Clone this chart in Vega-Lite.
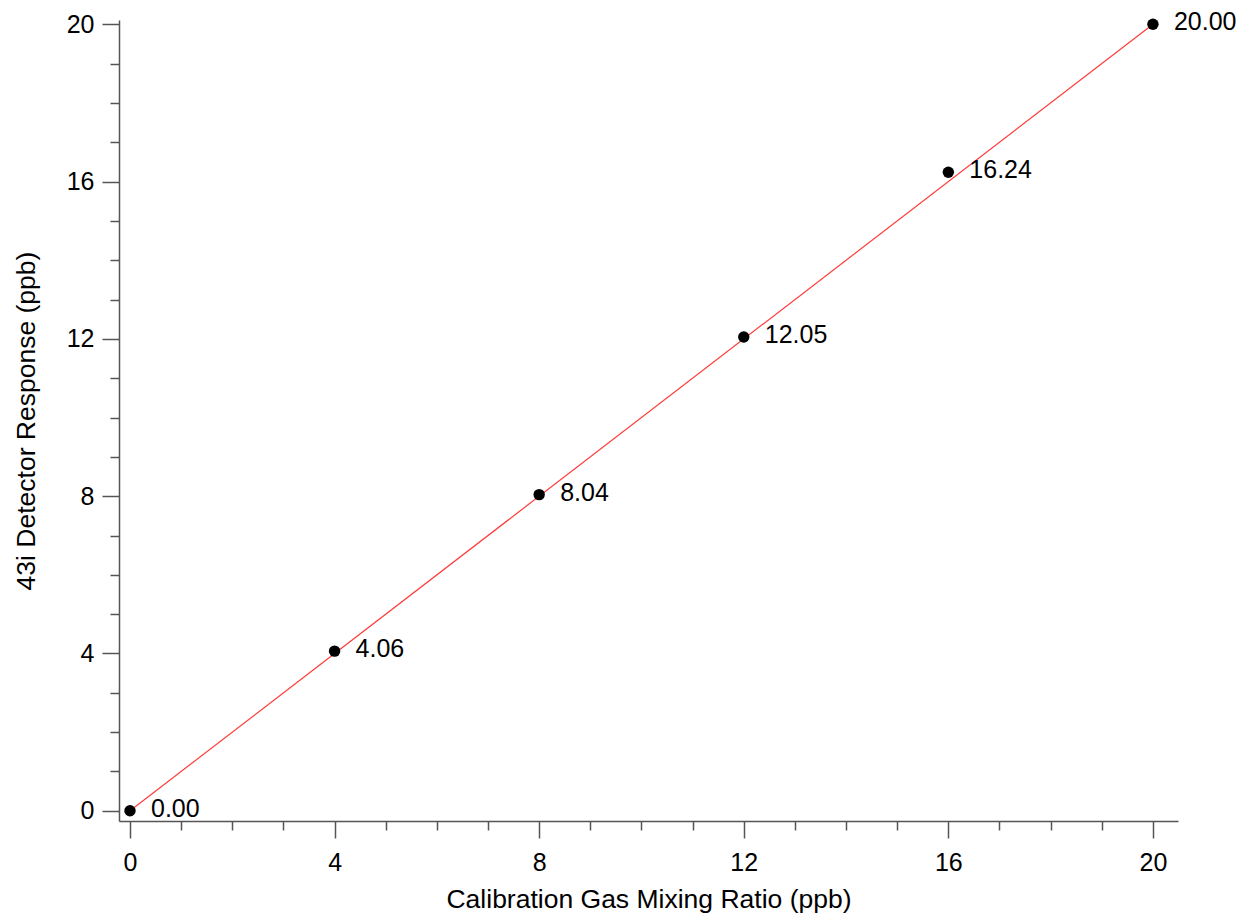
{
  "$schema": "https://vega.github.io/schema/vega-lite/v6.json",
  "width": 1059,
  "height": 801,
  "autosize": {"type": "none"},
  "padding": {"left": 119, "top": 20, "right": 66, "bottom": 93},
  "background": "white",
  "config": {
    "view": {"stroke": null},
    "font": "Liberation Sans",
    "axis": {
      "labelFont": "Liberation Sans",
      "titleFont": "Liberation Sans",
      "labelFontSize": 25,
      "titleFontSize": 26.5,
      "labelColor": "#000000",
      "titleColor": "#000000",
      "titleFontWeight": "normal",
      "domainColor": "#555555",
      "tickColor": "#555555",
      "domainWidth": 1.5,
      "tickWidth": 1.5,
      "grid": false
    }
  },
  "datasets": {
    "pts": [
      {"mix": 0, "resp": 0.00},
      {"mix": 4, "resp": 4.06},
      {"mix": 8, "resp": 8.04},
      {"mix": 12, "resp": 12.05},
      {"mix": 16, "resp": 16.24},
      {"mix": 20, "resp": 20.00}
    ],
    "fit": [
      {"mix": 0, "resp": 0.0},
      {"mix": 20, "resp": 20.0}
    ]
  },
  "resolve": {"axis": {"x": "independent", "y": "independent"}},
  "layer": [
    {
      "data": {"name": "fit"},
      "mark": {"type": "line", "color": "#ff3b3b", "strokeWidth": 1.2},
      "encoding": {
        "x": {"field": "mix", "type": "quantitative",
          "scale": {"domain": [-0.215, 20.49], "nice": false, "zero": false},
          "axis": {"orient": "bottom", "values": [1,2,3,5,6,7,9,10,11,13,14,15,17,18,19], "labels": false, "domain": false, "tickSize": 9, "title": null}},
        "y": {"field": "resp", "type": "quantitative",
          "scale": {"domain": [-0.26, 20.11], "nice": false, "zero": false},
          "axis": {"orient": "left", "values": [1,2,3,5,6,7,9,10,11,13,14,15,17,18,19], "labels": false, "domain": false, "tickSize": 9, "title": null}}
      }
    },
    {
      "data": {"name": "pts"},
      "mark": {"type": "circle", "color": "#000000", "opacity": 1, "size": 130},
      "encoding": {
        "x": {"field": "mix", "type": "quantitative",
          "axis": {"orient": "bottom", "values": [0,4,8,12,16,20], "tickSize": 17, "labelPadding": 12, "title": "Calibration Gas Mixing Ratio (ppb)", "titleY": 86, "titleBaseline": "alphabetic"}},
        "y": {"field": "resp", "type": "quantitative",
          "axis": {"orient": "left", "values": [0,4,8,12,16,20], "tickSize": 17, "labelPadding": 8, "title": "43i Detector Response (ppb)", "titleX": -85, "titleBaseline": "alphabetic"}}
      }
    },
    {
      "data": {"name": "pts"},
      "mark": {"type": "text", "align": "left", "baseline": "middle", "dx": 21, "dy": -2, "fontSize": 25, "font": "Liberation Sans", "color": "#000000"},
      "encoding": {
        "x": {"field": "mix", "type": "quantitative", "axis": null},
        "y": {"field": "resp", "type": "quantitative", "axis": null},
        "text": {"field": "resp", "type": "quantitative", "format": ".2f"}
      }
    }
  ]
}
